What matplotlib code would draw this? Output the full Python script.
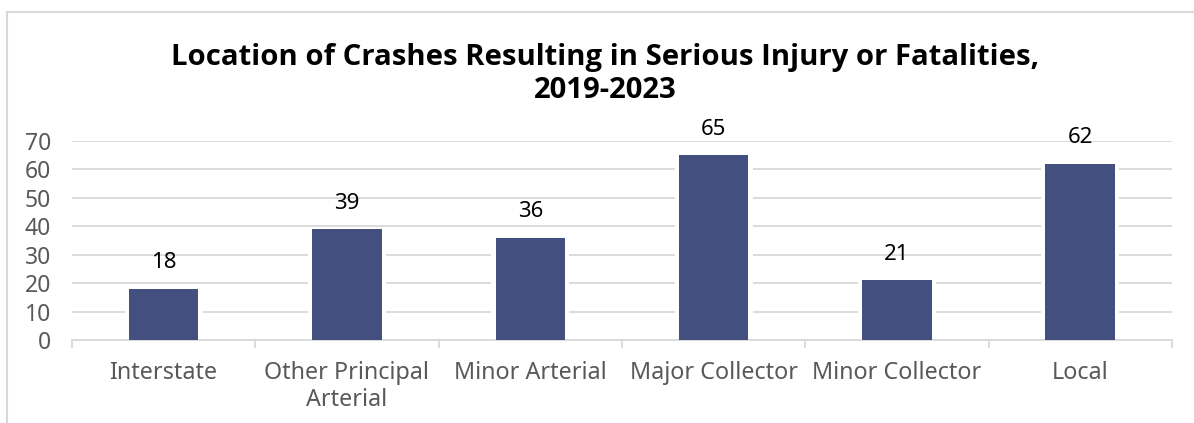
import matplotlib
matplotlib.use("Agg")
import matplotlib.pyplot as plt
from matplotlib.patches import Rectangle

categories = ["Interstate", "Other Principal\nArterial", "Minor Arterial",
              "Major Collector", "Minor Collector", "Local"]
values = [18, 39, 36, 65, 21, 62]
yticks = [0, 10, 20, 30, 40, 50, 60, 70]
title = "Location of Crashes Resulting in Serious Injury or Fatalities,\n2019-2023"

W, H = 1194, 423
fig = plt.figure(figsize=(W / 100, H / 100), dpi=100)
fig.patch.set_facecolor("white")

# chart-area border (cropped at right/bottom)
fig.add_artist(Rectangle((7 / W, -0.1), 1.2, (H - 12) / H + 0.1,
                         transform=fig.transFigure, fill=False,
                         edgecolor="#d9d9d9", linewidth=1.5))

left, right = 72 / W, 1172 / W
bottom, top = (H - 340) / H, (H - 141) / H
ax = fig.add_axes([left, bottom, right - left, top - bottom])

x = list(range(len(categories)))
bar_w = 0.38
gap = 8 / 183.3
ax.bar(x, values, width=bar_w + gap, color="white", zorder=2)
ax.bar(x, values, width=bar_w, color="#43507F", zorder=3)

for xi, v in zip(x, values):
    ax.annotate(str(v), (xi, v), xytext=(0, 26), textcoords="offset pixels",
                ha="center", va="center", fontsize=16, color="black",
                family="Noto Sans", zorder=4)

ax.set_xlim(-0.5, len(categories) - 0.5)
ax.set_ylim(0, 70)
ax.set_yticks(yticks)
ax.set_yticklabels([str(t) for t in yticks], family="Noto Sans",
                   fontsize=16.5, color="#595959")
ax.grid(axis="y", color="#d9d9d9", linewidth=1.3, zorder=0)
ax.set_axisbelow(True)
ax.tick_params(axis="y", length=0, pad=15)

ax.set_xticks(x)
ax.set_xticklabels(categories, family="Noto Sans", fontsize=16.8,
                   color="#595959", linespacing=1.15)
ax.tick_params(axis="x", length=0, pad=15)
# category boundary ticks
ax.set_xticks([i - 0.5 for i in range(len(categories) + 1)], minor=True)
ax.tick_params(axis="x", which="minor", length=6, color="#d9d9d9", width=1.3)

for s in ["top", "right", "left"]:
    ax.spines[s].set_visible(False)
ax.spines["bottom"].set_color("#d9d9d9")
ax.spines["bottom"].set_linewidth(1.3)

fig.text((170 + 1040) / 2 / W, (H - 74) / H, title, ha="center", va="center",
         fontsize=21.1, fontweight="bold", family="Open Sans",
         linespacing=1.2, color="black")

fig.savefig("out.png", dpi=100, facecolor="white")
